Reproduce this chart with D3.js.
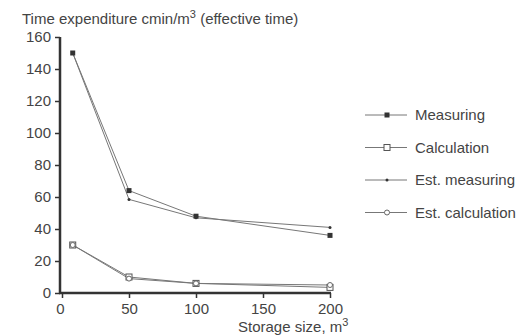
<!DOCTYPE html>
<html>
<head>
<meta charset="utf-8">
<script src="https://cdn.jsdelivr.net/npm/d3@7"></script>
<style>
  body { margin: 0; background: #fff; }
  svg { font-family: "Liberation Sans", Arial, sans-serif; }
  .tick text { fill: #444; font-size: 15px; }
</style>
</head>
<body>
<svg width="521" height="336"></svg>
<script>
const seriesNames = ["Measuring", "Calculation", "Est. measuring", "Est. calculation"];
const storageSizes = [8, 50, 100, 200];
const measuring = [150, 64, 48, 36];
const calculation = [30, 10, 6, 3.5];
const estMeasuring = [150, 58.5, 47, 41];
const estCalculation = [30, 9, 6, 5];
const yTicks = [0, 20, 40, 60, 80, 100, 120, 140, 160];
const xTicks = [0, 50, 100, 150, 200];

const svg = d3.select("svg");
const x = d3.scaleLinear().domain([0, 200]).range([62, 330]);
const y = d3.scaleLinear().domain([0, 160]).range([293, 37]);

const series = [measuring, calculation, estMeasuring, estCalculation].map(function (vals, i) {
  return { name: seriesNames[i], points: vals.map(function (v, j) { return [storageSizes[j], v]; }) };
});

// axes
const yAxis = svg.append("g")
  .attr("transform", "translate(60,0)")
  .call(d3.axisLeft(y).tickValues(yTicks).tickSize(5).tickPadding(4));
const xAxis = svg.append("g")
  .attr("transform", "translate(0,293)")
  .call(d3.axisBottom(x).tickValues(xTicks).tickSize(5).tickPadding(5));
xAxis.select(".tick text").attr("dx", -2);
[yAxis, xAxis].forEach(function (a) {
  a.select(".domain").remove();
  a.selectAll(".tick line").attr("stroke", "#333").attr("stroke-width", 1.5);
});
svg.append("line").attr("x1", 60).attr("x2", 60).attr("y1", y(160)).attr("y2", 294)
  .attr("stroke", "#333").attr("stroke-width", 2.5);
svg.append("line").attr("x1", 59).attr("x2", x(200) + 1).attr("y1", 293).attr("y2", 293)
  .attr("stroke", "#333").attr("stroke-width", 2.5);

// titles
const title = svg.append("text").attr("x", 22).attr("y", 24).attr("fill", "#444").style("font-size", "15px");
title.append("tspan").text("Time expenditure cmin/m");
title.append("tspan").attr("dy", -6).style("font-size", "11px").text("3");
title.append("tspan").attr("dy", 6).text(" (effective time)");

const xlab = svg.append("text").attr("x", 238).attr("y", 332).attr("fill", "#444").style("font-size", "15px");
xlab.append("tspan").text("Storage size, m");
xlab.append("tspan").attr("dy", -6).style("font-size", "11px").text("3");

// lines
const line = d3.line().x(function (d) { return x(d[0]); }).y(function (d) { return y(d[1]); });
svg.append("g").selectAll("path").data(series).enter().append("path")
  .attr("d", function (d) { return line(d.points); })
  .attr("fill", "none").attr("stroke", "#777").attr("stroke-width", 1);

function drawMarker(g, i) {
  if (i === 0) {
    g.append("rect").attr("x", -2.5).attr("y", -2.5).attr("width", 5).attr("height", 5).attr("fill", "#333");
  } else if (i === 1) {
    g.append("rect").attr("x", -3).attr("y", -3).attr("width", 6).attr("height", 6)
      .attr("fill", "#fff").attr("stroke", "#555").attr("stroke-width", 1);
  } else if (i === 2) {
    g.append("circle").attr("r", 1.5).attr("fill", "#333");
  } else {
    g.append("circle").attr("r", 2.5).attr("fill", "#fff").attr("stroke", "#666").attr("stroke-width", 1);
  }
}

series.forEach(function (s, i) {
  s.points.forEach(function (p) {
    const g = svg.append("g").attr("transform", "translate(" + x(p[0]) + "," + y(p[1]) + ")");
    drawMarker(g, i);
  });
});

// legend
const legend = svg.append("g").selectAll("g").data(series).enter().append("g")
  .attr("transform", function (d, i) { return "translate(0," + (115 + i * 32.5) + ")"; });
legend.append("line").attr("x1", 365).attr("x2", 407).attr("y1", 0).attr("y2", 0)
  .attr("stroke", "#777").attr("stroke-width", 1);
legend.each(function (d, i) {
  const g = d3.select(this).append("g").attr("transform", "translate(387,0)");
  drawMarker(g, i);
});
legend.append("text").attr("x", 415).attr("y", 5).attr("fill", "#444").style("font-size", "15px")
  .text(function (d) { return d.name; });
</script>
</body>
</html>
